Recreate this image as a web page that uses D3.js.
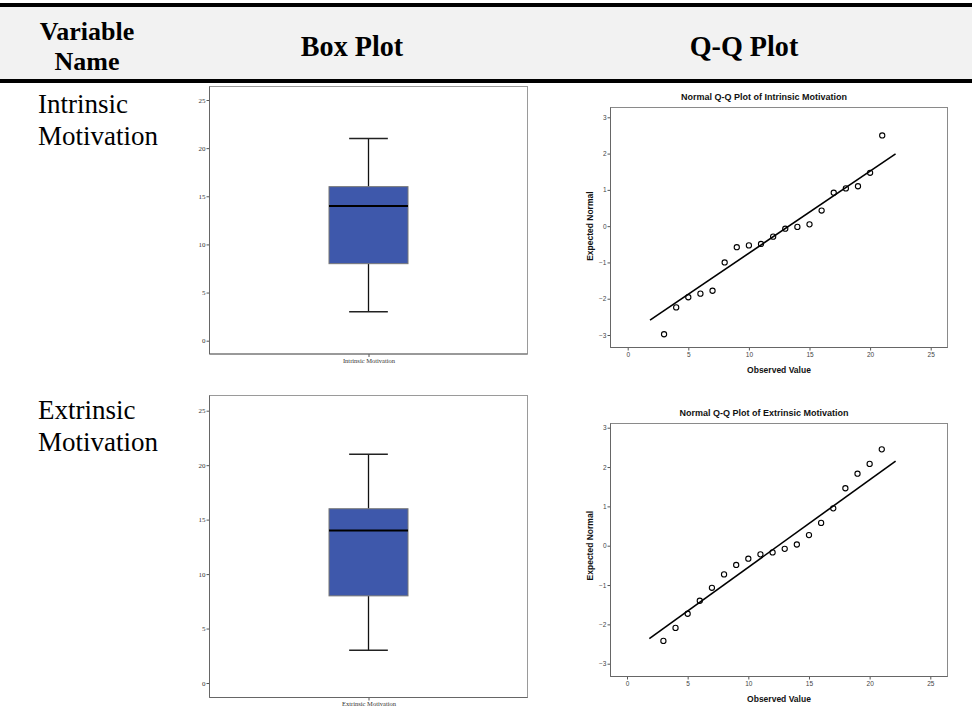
<!DOCTYPE html>
<html>
<head>
<meta charset="utf-8">
<script src="https://cdn.jsdelivr.net/npm/d3@7"></script>
<style>
  html, body { margin: 0; padding: 0; background: #fff; }
  svg { display: block; }
</style>
</head>
<body>
<svg id="chart" width="972" height="719"></svg>
<script>
// ---- data ----
const variables = ["Intrinsic Motivation", "Extrinsic Motivation"];
const rowLabels = [["Intrinsic", "Motivation"], ["Extrinsic", "Motivation"]];
const headers = ["Variable|Name", "Box Plot", "Q-Q Plot"];

// five-number summaries: [min, Q1, median, Q3, max]
const intrinsicBox = [3, 8, 14, 16, 21];
const extrinsicBox = [3, 8, 14, 16, 21];

// observed values and expected normal quantiles
const observed = [3, 4, 5, 6, 7, 8, 9, 10, 11, 12, 13, 14, 15, 16, 17, 18, 19, 20, 21];
const intrinsicExpected = [-2.98, -2.24, -1.96, -1.86, -1.78, -1.00, -0.58, -0.53, -0.49, -0.29,
                           -0.07, -0.02, 0.05, 0.43, 0.92, 1.04, 1.10, 1.47, 2.50];
const extrinsicExpected = [-2.42, -2.09, -1.73, -1.40, -1.07, -0.73, -0.49, -0.33, -0.22, -0.17,
                           -0.08, 0.03, 0.27, 0.58, 0.95, 1.46, 1.83, 2.08, 2.45];
// reference lines: [[x0, y0], [x1, y1]]
const intrinsicLine = [[1.84, -2.59], [22.1, 1.99]];
const extrinsicLine = [[1.84, -2.36], [22.14, 2.15]];

const boxTicks = [0, 5, 10, 15, 20, 25];
const qqXTicks = [0, 5, 10, 15, 20, 25];
const qqYTicks = [-3, -2, -1, 0, 1, 2, 3];

const svg = d3.select("#chart");

// ---- table header ----
svg.append("rect").attr("x", 0).attr("y", 7).attr("width", 972).attr("height", 73).attr("fill", "#f2f2f2");
svg.append("rect").attr("x", 0).attr("y", 3).attr("width", 972).attr("height", 4).attr("fill", "#000");
svg.append("rect").attr("x", 0).attr("y", 79).attr("width", 972).attr("height", 4).attr("fill", "#000");

const headFont = "'Liberation Serif', 'Times New Roman', serif";
function headText(txt, cx, baseline, size, sx) {
  svg.append("text")
    .attr("transform", `translate(${cx},${baseline}) scale(${sx},1)`)
    .attr("text-anchor", "middle")
    .attr("font-family", headFont).attr("font-weight", "bold").attr("font-size", size)
    .attr("fill", "#000").text(txt);
}
const headParts = headers[0].split("|");
headText(headParts[0], 87, 40, 26, 1);
headText(headParts[1], 87, 70, 26, 1);
headText(headers[1], 352, 56, 29, 0.97);
headText(headers[2], 744, 56, 29, 0.97);

// ---- row labels ----
const rowBaselines = [[113, 145], [419, 451]];
rowLabels.forEach((lines, i) => {
  lines.forEach((t, j) => {
    svg.append("text").attr("x", 38).attr("y", rowBaselines[i][j])
      .attr("font-family", headFont).attr("font-size", 27).attr("fill", "#000").text(t);
  });
});

// ---- box plot ----
function boxPlot(cfg) {
  const g = svg.append("g");
  const f = cfg.frame;
  g.append("rect").attr("x", f.x0).attr("y", f.y0).attr("width", f.x1 - f.x0).attr("height", f.y1 - f.y0)
    .attr("fill", "#fff").attr("stroke", "#9a9a9a").attr("stroke-width", 1);
  const y = d3.scaleLinear().domain([0, 25]).range([cfg.y0, cfg.y25]);
  const x = d3.scalePoint().domain([cfg.name]).range([f.x0, f.x1]).padding(0.5);

  const yAxis = g.append("g").attr("transform", `translate(${f.x0},0)`)
    .call(d3.axisLeft(y).tickValues(boxTicks).tickSize(3).tickPadding(1).tickFormat(d3.format("d")));
  yAxis.select(".domain").remove();
  yAxis.selectAll("line").attr("stroke", "#555");
  yAxis.selectAll("text").attr("font-family", headFont).attr("font-size", 7).attr("fill", "#333");
  g.append("line").attr("x1", f.x0).attr("x2", f.x0).attr("y1", f.y0).attr("y2", f.y1).attr("stroke", "#666");

  const xAxis = g.append("g").attr("transform", `translate(0,${f.y1})`)
    .call(d3.axisBottom(x).tickSize(3).tickPadding(1));
  xAxis.select(".domain").remove();
  xAxis.selectAll("line").attr("stroke", "#555");
  xAxis.selectAll("text").attr("font-family", headFont).attr("font-size", 6.5).attr("fill", "#333");
  g.append("line").attr("x1", f.x0).attr("x2", f.x1).attr("y1", f.y1).attr("y2", f.y1).attr("stroke", "#666");

  const [mn, q1, med, q3, mx] = cfg.stats;
  const cx = x(cfg.name);
  const bw = 79, cw = 38.7;
  // whiskers
  g.append("line").attr("x1", cx).attr("x2", cx).attr("y1", y(mx)).attr("y2", y(q3)).attr("stroke", "#111").attr("stroke-width", 1.3);
  g.append("line").attr("x1", cx).attr("x2", cx).attr("y1", y(q1)).attr("y2", y(mn)).attr("stroke", "#111").attr("stroke-width", 1.3);
  [mn, mx].forEach(v => {
    g.append("line").attr("x1", cx - cw / 2).attr("x2", cx + cw / 2).attr("y1", y(v)).attr("y2", y(v))
      .attr("stroke", "#222").attr("stroke-width", 1.5);
  });
  // box
  g.append("rect").attr("x", cx - bw / 2).attr("y", y(q3)).attr("width", bw).attr("height", y(q1) - y(q3))
    .attr("fill", "#3e58ab").attr("stroke", "#777").attr("stroke-width", 1);
  g.append("line").attr("x1", cx - bw / 2).attr("x2", cx + bw / 2).attr("y1", y(med)).attr("y2", y(med))
    .attr("stroke", "#000").attr("stroke-width", 2);
}

boxPlot({ name: variables[0], stats: intrinsicBox,
  frame: { x0: 209.5, y0: 86.5, x1: 527.5, y1: 354 }, y0: 340.7, y25: 100 });
boxPlot({ name: variables[1], stats: extrinsicBox,
  frame: { x0: 209.5, y0: 395.5, x1: 527.5, y1: 697.5 }, y0: 683, y25: 410.7 });

// ---- Q-Q plot ----
const sansFont = "'Liberation Sans', Arial, sans-serif";
function qqPlot(cfg) {
  const g = svg.append("g");
  const f = cfg.frame;
  const x = d3.scaleLinear().domain([0, 25]).range([cfg.x0, cfg.x25]);
  const y = d3.scaleLinear().domain([-3, 3]).range([cfg.yM3, cfg.yP3]);

  g.append("text").attr("x", (f.x0 + f.x1) / 2 - 15).attr("y", f.y0 - 8)
    .attr("text-anchor", "middle").attr("font-family", sansFont).attr("font-weight", "bold")
    .attr("font-size", 9).attr("fill", "#111").text(cfg.title);

  g.append("rect").attr("x", f.x0).attr("y", f.y0).attr("width", f.x1 - f.x0).attr("height", f.y1 - f.y0)
    .attr("fill", "#fff").attr("stroke", "#8a8a8a").attr("stroke-width", 1);

  const yAxis = g.append("g").attr("transform", `translate(${f.x0},0)`)
    .call(d3.axisLeft(y).tickValues(qqYTicks).tickSize(3).tickPadding(1).tickFormat(d3.format("d")));
  yAxis.select(".domain").remove();
  yAxis.selectAll("line").attr("stroke", "#555");
  yAxis.selectAll("text").attr("font-family", sansFont).attr("font-size", 6.5).attr("fill", "#444");

  const xAxis = g.append("g").attr("transform", `translate(0,${f.y1})`)
    .call(d3.axisBottom(x).tickValues(qqXTicks).tickSize(3).tickPadding(2).tickFormat(d3.format("d")));
  xAxis.select(".domain").remove();
  xAxis.selectAll("line").attr("stroke", "#555");
  xAxis.selectAll("text").attr("font-family", sansFont).attr("font-size", 6.5).attr("fill", "#444");

  g.append("line").attr("x1", f.x0).attr("x2", f.x0).attr("y1", f.y0).attr("y2", f.y1).attr("stroke", "#666");
  g.append("line").attr("x1", f.x0).attr("x2", f.x1).attr("y1", f.y1).attr("y2", f.y1).attr("stroke", "#666");

  g.append("text").attr("x", (f.x0 + f.x1) / 2).attr("y", f.y1 + 25)
    .attr("text-anchor", "middle").attr("font-family", sansFont).attr("font-weight", "bold")
    .attr("font-size", 8.5).attr("fill", "#111").text("Observed Value");
  g.append("text").attr("transform", `translate(${f.x0 - 17.5},${y(0)}) rotate(-90)`)
    .attr("text-anchor", "middle").attr("font-family", sansFont).attr("font-weight", "bold")
    .attr("font-size", 8.5).attr("fill", "#111").text("Expected Normal");

  const line = d3.line().x(d => x(d[0])).y(d => y(d[1]));
  g.append("path").attr("d", line(cfg.refLine)).attr("fill", "none").attr("stroke", "#000").attr("stroke-width", 1.6);

  g.selectAll("circle.pt").data(cfg.obs.map((o, i) => [o, cfg.exp[i]])).join("circle")
    .attr("class", "pt").attr("cx", d => x(d[0])).attr("cy", d => y(d[1])).attr("r", 2.6)
    .attr("fill", "none").attr("stroke", "#000").attr("stroke-width", 1.1);
}

qqPlot({ title: "Normal Q-Q Plot of Intrinsic Motivation", obs: observed, exp: intrinsicExpected, refLine: intrinsicLine,
  frame: { x0: 610.5, y0: 107.5, x1: 947.5, y1: 347.5 }, x0: 627.7, x25: 930.7, yM3: 335, yP3: 117.3 });
qqPlot({ title: "Normal Q-Q Plot of Extrinsic Motivation", obs: observed, exp: extrinsicExpected, refLine: extrinsicLine,
  frame: { x0: 610.5, y0: 423.5, x1: 947.5, y1: 676.5 }, x0: 627, x25: 930.3, yM3: 663.7, yP3: 427.7 });
</script>
</body>
</html>
